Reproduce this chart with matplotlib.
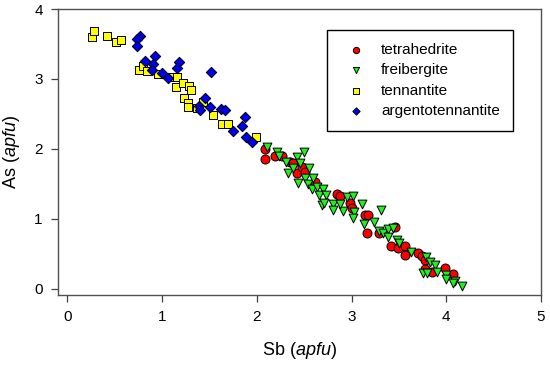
import matplotlib
matplotlib.use('Agg')
import matplotlib.pyplot as plt

# ─── Data ─────────────────────────────────────────────────────────
tetra_sb = [2.09, 2.09, 2.19, 2.26, 2.35, 2.38, 2.42, 2.48, 2.51, 2.61,
            2.85, 2.88, 2.98, 3.00, 3.14, 3.17, 3.16, 3.29, 3.46, 3.42,
            3.49, 3.56, 3.56, 3.70, 3.74, 3.78, 3.77, 3.85, 3.99, 4.07]
tetra_as = [2.00, 1.86, 1.90, 1.90, 1.81, 1.80, 1.66, 1.74, 1.67, 1.53,
            1.36, 1.33, 1.23, 1.16, 1.06, 1.06, 0.80, 0.80, 0.89, 0.61,
            0.59, 0.61, 0.49, 0.51, 0.47, 0.41, 0.29, 0.24, 0.30, 0.21]

frei_sb = [2.11, 2.21, 2.23, 2.31, 2.42, 2.50, 2.45, 2.55, 2.33, 2.38,
           2.43, 2.51, 2.54, 2.59, 2.58, 2.63, 2.70, 2.66, 2.73, 2.69,
           2.71, 2.80, 2.80, 2.91, 2.88, 2.95, 3.01, 3.11, 3.03, 3.02,
           3.13, 3.24, 3.31, 3.29, 3.33, 3.38, 3.44, 3.38, 3.48, 3.50,
           3.63, 3.79, 3.83, 3.88, 3.75, 3.80, 3.90, 4.00, 4.00, 4.09,
           4.17, 4.07]
frei_as = [2.03, 1.96, 1.90, 1.81, 1.89, 1.96, 1.80, 1.73, 1.66, 1.73,
           1.51, 1.59, 1.50, 1.59, 1.43, 1.46, 1.43, 1.34, 1.34, 1.20,
           1.23, 1.21, 1.13, 1.11, 1.21, 1.31, 1.33, 1.21, 1.10, 1.01,
           0.93, 0.96, 1.13, 0.83, 0.80, 0.86, 0.87, 0.74, 0.70, 0.66,
           0.53, 0.46, 0.39, 0.34, 0.23, 0.23, 0.24, 0.20, 0.14, 0.11,
           0.04, 0.09]

tenn_sb = [0.26, 0.28, 0.42, 0.51, 0.57, 0.76, 0.80, 0.84, 0.96, 1.11,
           1.16, 1.15, 1.22, 1.28, 1.30, 1.23, 1.27, 1.27, 1.37, 1.43,
           1.54, 1.63, 1.69, 1.99]
tenn_as = [3.60, 3.69, 3.61, 3.53, 3.56, 3.13, 3.19, 3.11, 3.07, 3.03,
           3.03, 2.89, 2.94, 2.90, 2.84, 2.73, 2.66, 2.60, 2.59, 2.67,
           2.49, 2.36, 2.36, 2.17]

argt_sb = [0.77, 0.73, 0.73, 0.92, 0.82, 0.90, 0.89, 1.00, 1.06, 1.18,
           1.16, 1.52, 1.45, 1.39, 1.40, 1.50, 1.62, 1.66, 1.87, 1.84,
           1.75, 1.88, 1.95]
argt_as = [3.61, 3.57, 3.47, 3.33, 3.26, 3.21, 3.13, 3.09, 3.01, 3.24,
           3.16, 3.10, 2.73, 2.61, 2.56, 2.60, 2.57, 2.56, 2.46, 2.33,
           2.26, 2.17, 2.10]

x_ticks = [0, 1, 2, 3, 4, 5]
y_ticks = [0, 1, 2, 3, 4]

# ─── Style ────────────────────────────────────────────────────────
plt.rcParams.update({
    'font.family': ['Liberation Sans', 'DejaVu Sans'],
    'mathtext.fontset': 'custom',
    'mathtext.rm': 'Liberation Sans',
    'mathtext.it': 'Liberation Sans:italic',
    'font.size': 11,
})

fig = plt.figure(figsize=(5.5, 3.65), dpi=100)
ax = fig.add_axes([58 / 550, 1 - 295 / 365, 483 / 550, 286 / 365])

edge = dict(edgecolors='black', linewidths=0.7)
# tennantite and argentotennantite first, then the Sb-rich series
ax.scatter(tenn_sb, tenn_as, marker='s', s=32, color='#ffff00', label='tennantite', zorder=3, **edge)
ax.scatter(argt_sb, argt_as, marker='D', s=28, color='#0000ee', label='argentotennantite', zorder=3, **edge)
ax.scatter(tetra_sb, tetra_as, marker='o', s=42, color='#ff0000', label='tetrahedrite', zorder=3, **edge)
ax.scatter(frei_sb, frei_as, marker='v', s=40, color='#22ee22', label='freibergite', zorder=4, **edge)

ax.set_xlim(-0.1, 5.0)
ax.set_ylim(-0.086, 4.0)
ax.set_xticks(x_ticks)
ax.set_yticks(y_ticks)
ax.tick_params(direction='out', length=5, width=0.9, color='#404040',
               labelsize=11, top=False, right=False, pad=6)
for sp in ax.spines.values():
    sp.set_color('#505050')
    sp.set_linewidth(1.0)

ax.set_xlabel(r'Sb ($\mathit{apfu}$)', fontsize=13, labelpad=11)
ax.set_ylabel(r'As ($\mathit{apfu}$)', fontsize=13, labelpad=9)

# legend in the order of the original
h, l = ax.get_legend_handles_labels()
order = [2, 3, 0, 1]
leg = ax.legend([h[i] for i in order], [l[i] for i in order],
                loc='upper left', bbox_to_anchor=(0.557, 0.927),
                borderaxespad=0, fancybox=False, edgecolor='black',
                framealpha=1, fontsize=11, handlelength=2.15,
                handletextpad=0.55, labelspacing=0.43, borderpad=0.84,
                markerscale=0.7)
leg.get_frame().set_linewidth(1.0)

fig.savefig('out.png', dpi=100)
